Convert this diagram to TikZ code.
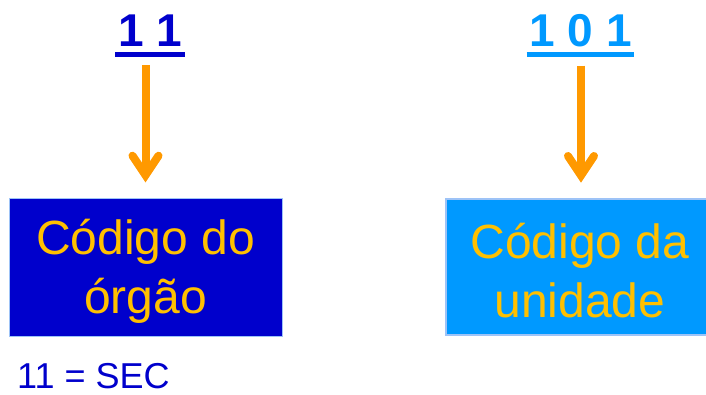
\documentclass[tikz,border=0pt]{standalone}
\usepackage{fontspec}
\setmainfont{Liberation Sans}
\usetikzlibrary{calc}
\definecolor{dblue}{HTML}{0000CC}
\definecolor{lblue}{HTML}{0099FF}
\definecolor{gold}{HTML}{FFC000}
\definecolor{orng}{HTML}{FF9900}
\definecolor{edge}{HTML}{9DC3F7}
\begin{document}
\begin{tikzpicture}[x=1pt,y=-1pt,
  code/.style={font=\bfseries\fontsize{46}{50}\selectfont, inner sep=0pt, anchor=base},
  uline/.style={line width=5pt},
  box/.style={minimum width=273pt, minimum height=138pt, inner sep=0pt},
  boxtext/.style={inner sep=0pt, align=center, text=gold, font=\fontsize{48}{59}\selectfont},
  shaft/.style={draw=orng, line width=8pt},
  head/.style={draw=orng, line width=8pt, line cap=round, line join=miter},
  note/.style={font=\fontsize{36}{40}\selectfont, text=dblue, inner sep=0pt, anchor=base west}]
\useasboundingbox (0,0) rectangle (706,395);
\clip (0,0) rectangle (706,395);
\fill[white] (0,0) rectangle (706,395);
% top codes
\node[code, text=dblue] (l1) at (150,47) {1 1};
\node[code, text=lblue] (l2) at (580.5,47) {1 0 1};
\draw[dblue, uline] ($(l1.base west)+(-2.5,7.5)$) -- ($(l1.base east)+(2.5,7.5)$);
\draw[lblue, uline] ($(l2.base west)+(-2.5,7.5)$) -- ($(l2.base east)+(2.5,7.5)$);
% boxes
\node[box, fill=dblue, draw=edge, line width=0.6pt] (b1) at (145.5,267) {};
\node[box, fill=lblue, draw=edge, line width=2pt, minimum width=270pt, minimum height=136pt] (b2) at (581,267) {};
\node[boxtext] (t1) at ($(b1.center)+(0,4)$) {Código do\\órgão};
\node[boxtext] (t2) at ($(b2.center)+(-1,4)$) {Código da\\unidade};
% arrows
\draw[shaft, shorten <=18pt, shorten >=22.5pt] (l1.south -| b1.north) -- (b1.north);
\draw[head] ($(b1.north)+(-13,-42)$) -- ($(b1.north)+(0,-22.5)$) -- ($(b1.north)+(13,-42)$);
\draw[shaft, shorten <=18pt, shorten >=22.5pt] (l2.south -| b2.north) -- (b2.north);
\draw[head] ($(b2.north)+(-13,-42)$) -- ($(b2.north)+(0,-22.5)$) -- ($(b2.north)+(13,-42)$);
% note
\node[note] (n1) at (17,388) {11 = SEC};
\end{tikzpicture}
\end{document}
